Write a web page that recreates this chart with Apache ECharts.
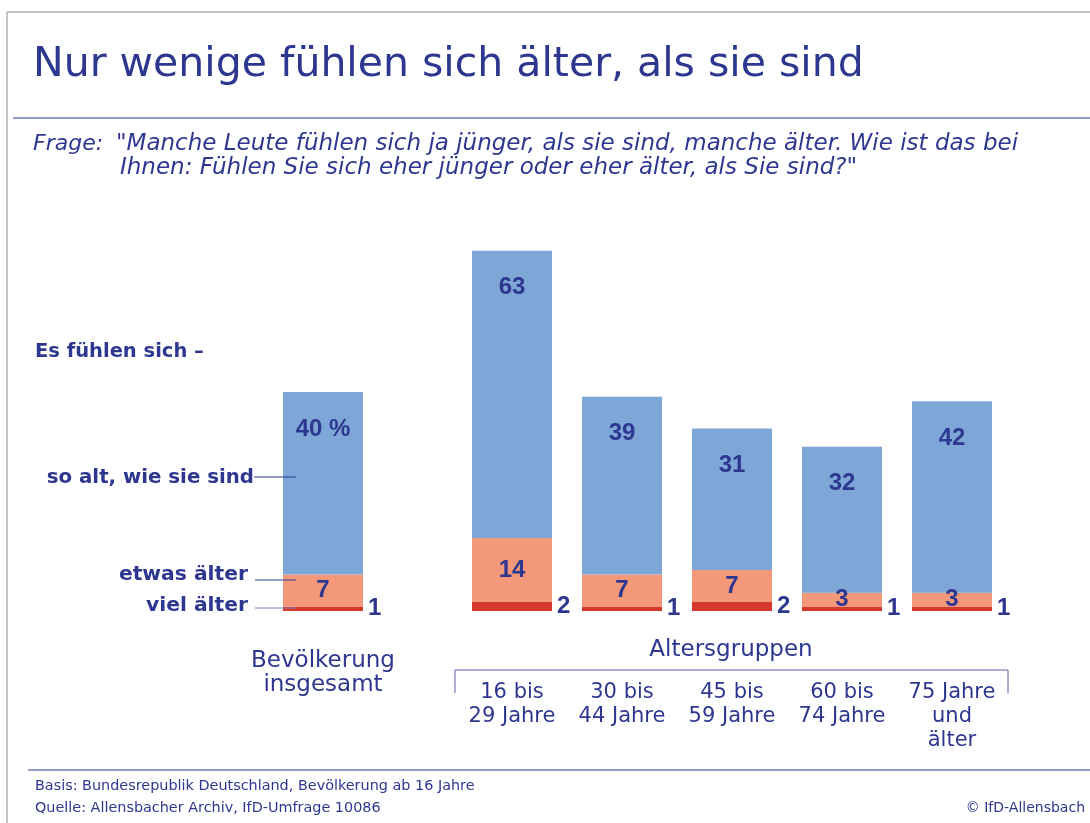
<!DOCTYPE html>
<html><head><meta charset="utf-8">
<script src="https://cdn.jsdelivr.net/npm/echarts@6/dist/echarts.min.js"></script>
<style>html,body{margin:0;padding:0;background:#fff}#c{width:1090px;height:823px}</style>
</head><body><div id="c"></div>
<script>
// ---- data ----
const totalCategory = ['Bevölkerung\ninsgesamt'];
const ageGroups = ['16 bis\n29 Jahre', '30 bis\n44 Jahre', '45 bis\n59 Jahre', '60 bis\n74 Jahre', '75 Jahre\nund\nälter'];
const totalVielAelter = [1];
const totalEtwasAelter = [7];
const totalSoAlt = [40];
const ageVielAelter = [2, 1, 2, 1, 1];
const ageEtwasAelter = [14, 7, 7, 3, 3];
const ageSoAlt = [63, 39, 31, 32, 42];
const yMax = 100;

// ---- style ----
const NAVY = '#2e3790';
const FONT = 'DejaVu Sans';
const NUMFONT = 'Liberation Sans';
const C_BLUE = '#7ea7d8', C_SALMON = '#f4987a', C_RED = '#d6392b';

const chart = echarts.init(document.getElementById('c'));

function seriesSet(idx, viel, etwas, soAlt, pct) {
  const stack = 's' + idx;
  const base = { type: 'bar', xAxisIndex: idx, yAxisIndex: idx, stack: stack, barWidth: 80, animation: false };
  const lbl = { show: true, color: NAVY, fontFamily: NUMFONT, fontWeight: 'bold', fontSize: 24 };
  return [
    Object.assign({}, base, { name: 'viel älter', data: viel, itemStyle: { color: C_RED },
      label: Object.assign({}, lbl, { position: 'right', distance: 5 }) }),
    Object.assign({}, base, { name: 'etwas älter', data: etwas, itemStyle: { color: C_SALMON },
      label: Object.assign({}, lbl, { position: 'inside' }) }),
    Object.assign({}, base, { name: 'so alt, wie sie sind', data: soAlt, itemStyle: { color: C_BLUE },
      label: Object.assign({}, lbl, { position: 'insideTop', distance: 25,
        formatter: p => pct ? p.value + ' %' : String(p.value) }) })
  ];
}

const axisLabelBase = { color: NAVY, fontFamily: FONT, fontSize: 21, lineHeight: 24, interval: 0 };
const T = (x, y, text, font, align) => ({ type: 'text', x: x, y: y,
  style: { text: text, fill: NAVY, font: font, align: align || 'left', verticalAlign: 'middle' } });

const option = {
  backgroundColor: '#fff',
  animation: false,
  grid: [
    { left: 273, width: 100, top: 155, bottom: 212 },
    { left: 457, width: 550, top: 155, bottom: 212 }
  ],
  xAxis: [
    { type: 'category', gridIndex: 0, data: totalCategory, axisLine: { show: false }, axisTick: { show: false },
      axisLabel: Object.assign({}, axisLabelBase, { margin: 38, fontSize: 23 }) },
    { type: 'category', gridIndex: 1, data: ageGroups, axisLine: { show: false }, axisTick: { show: false },
      axisLabel: Object.assign({}, axisLabelBase, { margin: 70 }) }
  ],
  yAxis: [
    { type: 'value', gridIndex: 0, min: 0, max: yMax, show: false },
    { type: 'value', gridIndex: 1, min: 0, max: yMax, show: false }
  ],
  series: [].concat(
    seriesSet(0, totalVielAelter, totalEtwasAelter, totalSoAlt, true),
    seriesSet(1, ageVielAelter, ageEtwasAelter, ageSoAlt, false)
  ),
  graphic: [
    // frame
    { type: 'line', shape: { x1: 7, y1: 12, x2: 1090, y2: 12 }, style: { stroke: '#b0b0b0', lineWidth: 1.5 } },
    { type: 'line', shape: { x1: 7, y1: 12, x2: 7, y2: 823 }, style: { stroke: '#b0b0b0', lineWidth: 1.5 } },
    // title
    T(33, 65, 'Nur wenige fühlen sich älter, als sie sind', 'normal 41px "' + FONT + '"'),
    { type: 'line', shape: { x1: 13, y1: 118, x2: 1090, y2: 118 }, style: { stroke: NAVY, lineWidth: 1.2 } },
    // question
    T(33, 144, 'Frage:', 'italic 22px "' + FONT + '"'),
    T(116, 144, '"Manche Leute fühlen sich ja jünger, als sie sind, manche älter. Wie ist das bei', 'italic 23px "' + FONT + '"'),
    T(120, 168, 'Ihnen: Fühlen Sie sich eher jünger oder eher älter, als Sie sind?"', 'italic 23px "' + FONT + '"'),
    // legend-like labels
    T(35, 352, 'Es fühlen sich –', 'bold 19.5px "' + FONT + '"'),
    T(254, 478, 'so alt, wie sie sind', 'bold 19.8px "' + FONT + '"', 'right'),
    T(248, 575, 'etwas älter', 'bold 20.3px "' + FONT + '"', 'right'),
    T(248, 606, 'viel älter', 'bold 20.3px "' + FONT + '"', 'right'),
    { type: 'line', zlevel: 1, shape: { x1: 254, y1: 477, x2: 296, y2: 477 }, style: { stroke: NAVY, lineWidth: 1 } },
    { type: 'line', zlevel: 1, shape: { x1: 255, y1: 580, x2: 296, y2: 580 }, style: { stroke: NAVY, lineWidth: 1 } },
    { type: 'line', zlevel: 1, shape: { x1: 255, y1: 608, x2: 296, y2: 608 }, style: { stroke: '#7f84b8', lineWidth: 1 } },
    // age group bracket
    T(731, 650, 'Altersgruppen', 'normal 23px "' + FONT + '"', 'center'),
    { type: 'polyline', shape: { points: [[455, 693], [455, 670], [1008, 670], [1008, 693]] }, style: { stroke: '#5a60a8', lineWidth: 1, fill: null } },
    // footer
    { type: 'line', shape: { x1: 28, y1: 770, x2: 1090, y2: 770 }, style: { stroke: NAVY, lineWidth: 1.2 } },
    T(35, 786, 'Basis: Bundesrepublik Deutschland, Bevölkerung ab 16 Jahre', 'normal 14.4px "' + FONT + '"'),
    T(35, 808, 'Quelle: Allensbacher Archiv, IfD-Umfrage 10086', 'normal 14.4px "' + FONT + '"'),
    T(1085, 808, '© IfD-Allensbach', 'normal 14px "' + FONT + '"', 'right')
  ]
};
chart.setOption(option);
</script>
</body></html>
